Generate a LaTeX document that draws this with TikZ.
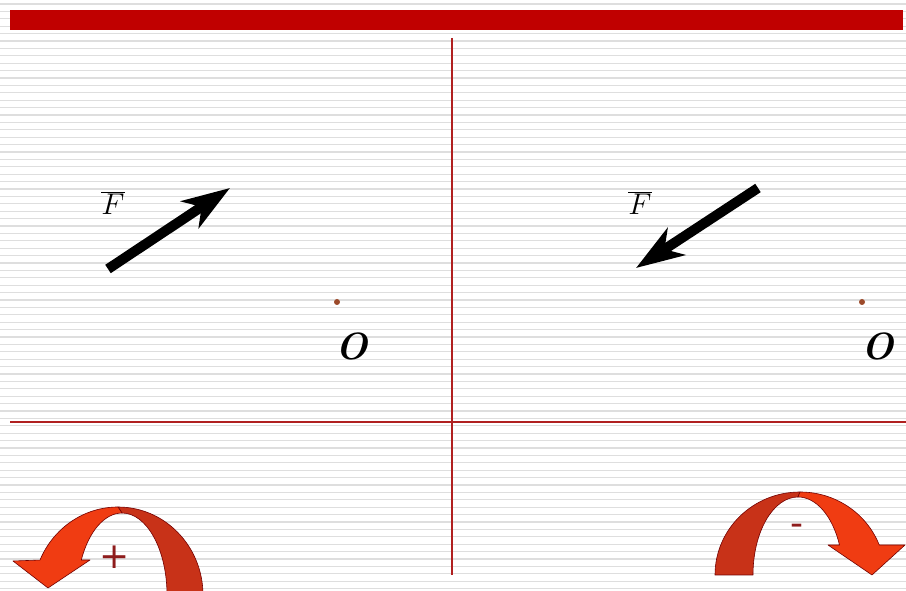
\documentclass[tikz,border=0pt]{standalone}
\usepackage{fix-cm}
\usepackage{fontspec}
\newfontfamily\signfont{DejaVu Sans}
\usetikzlibrary{arrows.meta}
\definecolor{barred}{HTML}{C00000}
\definecolor{axisred}{HTML}{B02020}
\definecolor{ruleg}{HTML}{DEDEDE}
\definecolor{turnlight}{HTML}{F03C12}
\definecolor{turndark}{HTML}{C83218}
\definecolor{pointbrown}{HTML}{9C4A2A}
\definecolor{signred}{HTML}{8E1C1C}
\begin{document}
\begin{tikzpicture}[x=1pt,y=1pt,
  force/.style={line width=10pt,-{Stealth[length=48pt,width=32pt,inset=14pt]}},
  axis/.style={axisred,line width=1.3pt},
  lbl/.style={inner sep=0pt,font=\fontsize{30}{36}\selectfont},
  ptlbl/.style={inner sep=0pt,font=\fontsize{38}{42}\selectfont\bfseries\itshape},
  dot/.style={circle,fill=pointbrown,inner sep=0pt,minimum size=6pt},
  sign/.style={inner sep=0pt,text=signred,font=\signfont\fontsize{36}{40}\selectfont},
  turn/.style={draw=red!45!black,line width=0.6pt,line join=round}]
\useasboundingbox (0,0) rectangle (906,591);
\clip (0,0) rectangle (906,591);
\fill[white] (0,0) rectangle (906,591);
% ruled background
\foreach \k in {0,...,79}
  \draw[ruleg,line width=1.1pt] (0,587-7.4*\k) -- (906,587-7.4*\k);
\fill[barred] (10,561) rectangle (903,581);
% axes
\coordinate (hleft) at (10,169);
\coordinate (hright) at (906,169);
\coordinate (vtop) at (452,553);
\coordinate (vbot) at (452,16);
\draw[axis] (hleft) -- (hright);
\draw[axis] (vtop) -- (vbot);
% left panel
\coordinate (ltail) at (108,322);
\coordinate (lhead) at (230,403);
\draw[force] (ltail) -- (lhead);
\node[lbl] (lF) at (113,388) {$\overline{F}$};
\node[dot] (lpt) at (337,289) {};
\node[ptlbl] (lO) at (352,245) {O};
% right panel
\coordinate (rtail) at (758,403);
\coordinate (rhead) at (636,323);
\draw[force] (rtail) -- (rhead);
\node[lbl] (rF) at (640,388) {$\overline{F}$};
\node[dot] (rpt) at (862,289) {};
\node[ptlbl] (rO) at (878,245) {O};
% turning arrows
\filldraw[turn,fill=turndark] (118,84) arc[start angle=90,end angle=0,x radius=85pt,y radius=88pt]
  -- (203,-10) -- (167,-10) -- (167,-4) arc[start angle=0,end angle=90,x radius=45pt,y radius=82pt] -- cycle;
\filldraw[turn,fill=turnlight] (118,84) arc[start angle=90,end angle=156.6,x radius=85pt,y radius=88pt]
  -- (13,30) -- (48,3) -- (90,31) -- (81.3,31) arc[start angle=154.7,end angle=90,x radius=45pt,y radius=82pt] -- cycle;
\node[sign] (plus) at (115,34) {+};
\filldraw[turn,fill=turndark] (800,99) arc[start angle=90,end angle=180,x radius=85pt,y radius=83pt]
  -- (753,16) arc[start angle=180,end angle=90,x radius=45pt,y radius=78pt] -- cycle;
\filldraw[turn,fill=turnlight] (800,99) arc[start angle=90,end angle=21.2,x radius=85pt,y radius=83pt]
  -- (905,46) -- (872,16) -- (828,46) -- (839.5,46) arc[start angle=22.6,end angle=90,x radius=45pt,y radius=78pt] -- cycle;
\node[sign] (minus) at (797,61) {-};
\end{tikzpicture}
\end{document}
